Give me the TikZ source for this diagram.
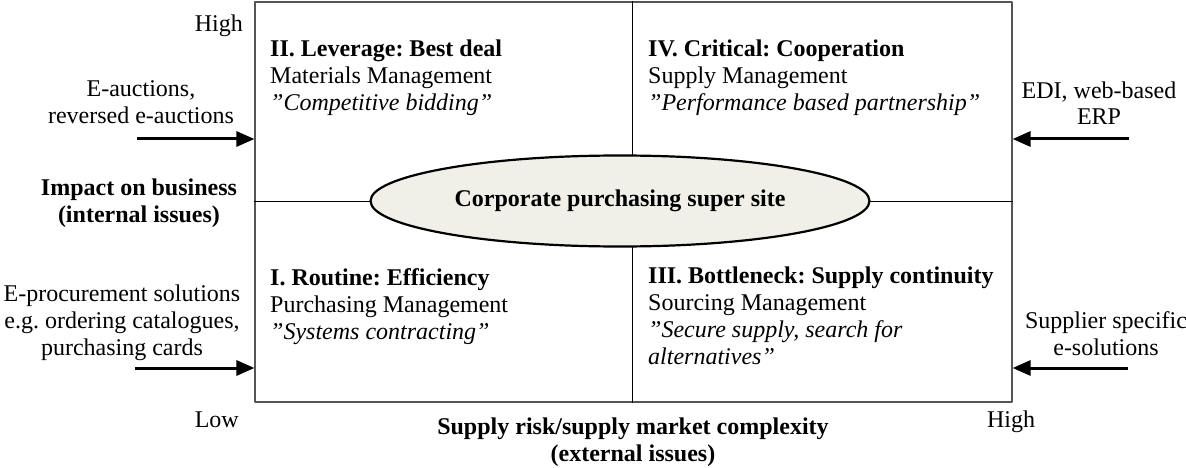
\documentclass[tikz,border=0pt]{standalone}
\usepackage{fontspec}
\setmainfont{Liberation Serif}
\usetikzlibrary{arrows.meta,shapes.geometric,positioning}
\frenchspacing
\definecolor{sitefill}{RGB}{240,240,232}
\definecolor{framegray}{RGB}{85,85,85}
\tikzset{
  quad/.style={anchor=base west, align=left, inner sep=0pt},
  side/.style={anchor=base, align=center, inner sep=0pt},
  feed/.style={line width=3pt, -{Triangle[length=18pt,width=15pt]}},
}
\begin{document}
\begin{tikzpicture}[x=1pt, y=-1pt, font=\fontsize{24}{27}\selectfont, line join=round]
	\useasboundingbox (0,0) rectangle (1186,468);
	% portfolio frame and the two dividers
	\node[draw=framegray, line width=1.2pt, minimum width=757pt, minimum height=400pt, inner sep=0pt] (grid) at (633.5,202) {};
	\coordinate (mid) at (632,201);
	\draw[line width=1pt] (grid.west |- mid) -- (grid.east |- mid) (grid.north -| mid) -- (grid.south -| mid);
	\node[ellipse, draw, line width=2.2pt, fill=sitefill, minimum width=499pt, minimum height=91pt, inner sep=0pt, font=\fontsize{24}{27}\selectfont\bfseries] (site) at (620,201) {Corporate purchasing super site};
	% quadrants (base = last line)
	\node[quad] (lev) at (270,111) {\textbf{II. Leverage: Best deal}\\Materials Management\\\textit{”Competitive bidding”}};
	\node[quad] (crit) at (648,111) {\textbf{IV. Critical: Cooperation}\\Supply Management\\\textit{”Performance based partnership”}};
	\node[quad] (rout) at (270,339) {\textbf{I. Routine: Efficiency}\\Purchasing Management\\\textit{”Systems contracting”}};
	\node[quad] (bott) at (648,364) {\textbf{III. Bottleneck: Supply continuity}\\Sourcing Management\\\textit{”Secure supply, search for}\\\textit{alternatives”}};
	% axis labels
	\node[anchor=base east, inner sep=0pt] (hiY) at (243,32) {High};
	\node[anchor=base east, inner sep=0pt] (loY) at (239,427) {Low};
	\node[side] (hiX) at (1011,427) {High};
	\node[side, font=\fontsize{24}{27}\selectfont\bfseries] (impact) at (139,222) {Impact on business\\(internal issues)};
	\node[side, font=\fontsize{24}{27}\selectfont\bfseries] (risk) at (633,461) {Supply risk/supply market complexity\\(external issues)};
	% e-tools feeding in from both sides
	\node[side] (auc) at (141,124) {E-auctions,\\reversed e-auctions};
	\node[side] (eproc) at (122,355) {E-procurement solutions\\e.g. ordering catalogues,\\purchasing cards};
	\node[side] (edi) at (1099,125) {EDI, web-based\\ERP};
	\node[side] (supp) at (1106,355) {Supplier specific\\e-solutions};
	\coordinate (aucT) at (137,139);
	\coordinate (eprocT) at (135,368);
	\coordinate (ediT) at (1129,139);
	\coordinate (suppT) at (1128,368);
	\draw[feed] (aucT) -- (aucT -| grid.west);
	\draw[feed] (eprocT) -- (eprocT -| grid.west);
	\draw[feed] (ediT) -- (ediT -| grid.east);
	\draw[feed] (suppT) -- (suppT -| grid.east);
\end{tikzpicture}
\end{document}
